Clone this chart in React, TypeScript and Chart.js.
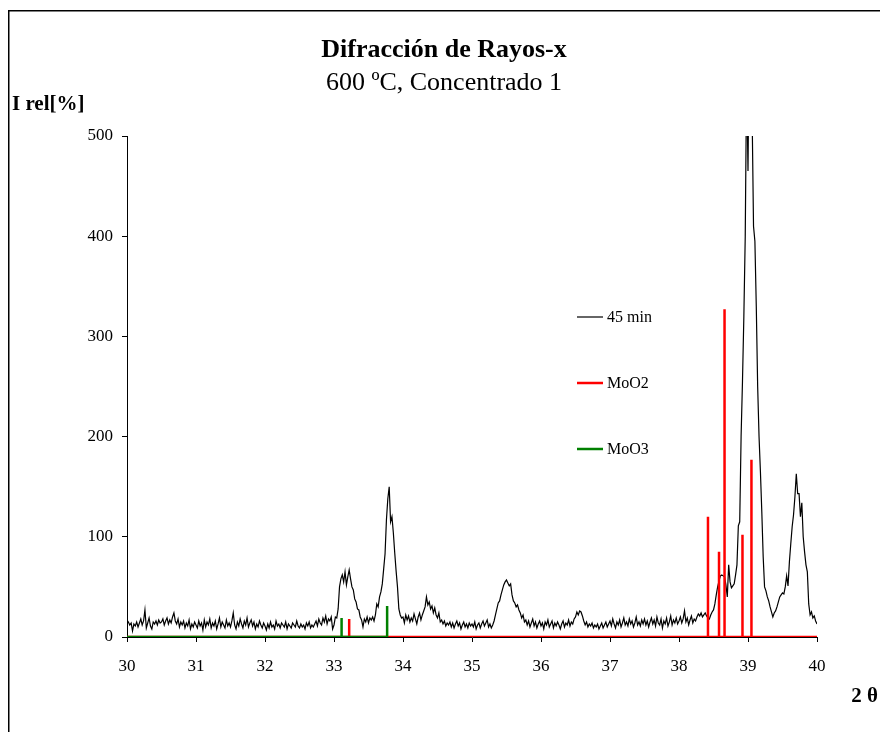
import React, { useEffect, useRef } from 'react';
import { Chart, registerables } from 'chart.js';

Chart.register(...registerables);

// ---- Data -------------------------------------------------------------
// X-ray diffraction scan, 45 min sample; 2θ from 30 to 40, step 0.02
const scanStart = 30;
const scanStep = 0.02;

const scan30to31 = [17, 15, 12, 14, 6, 13, 11, 15, 10, 14, 18, 12, 16, 27, 9, 14, 19, 11, 8, 15, 13, 16, 12, 17, 14,
  15, 18, 12, 16, 19, 13, 17, 14, 20, 24, 16, 13, 18, 10, 15, 12, 16, 9, 14, 11, 17, 8, 13, 10, 15];
const scan31to32 = [12, 9, 16, 11, 14, 7, 17, 10, 15, 12, 18, 9, 14, 11, 16, 8, 13, 19, 10, 15, 12, 9, 17, 11, 14,
  10, 16, 24, 12, 8, 15, 11, 18, 13, 9, 16, 12, 19, 10, 14, 17, 11, 15, 8, 13, 10, 16, 12, 9, 14];
const scan32to33 = [11, 7, 13, 9, 15, 10, 12, 8, 16, 11, 13, 9, 14, 12, 10, 15, 8, 13, 11, 9, 14, 12, 10, 16, 11,
  9, 13, 10, 12, 8, 14, 11, 15, 9, 12, 10, 13, 16, 11, 18, 14, 12, 19, 15, 21, 13, 18, 16, 20, 8];
const scan33to34 = [12, 20, 19, 28, 50, 58, 62, 55, 65, 52, 60, 67, 58, 50, 47, 38, 35, 28, 27, 20, 17, 10, 18, 15, 20,
  14, 19, 17, 20, 16, 22, 33, 30, 40, 45, 53, 68, 83, 117, 138, 150, 115, 120, 104, 84, 66, 50, 28, 22, 19];
const scan34to35 = [20, 14, 22, 17, 21, 15, 19, 16, 23, 18, 13, 20, 24, 17, 22, 26, 30, 40, 32, 35, 28, 31, 24, 29, 22,
  19, 24, 15, 17, 13, 16, 11, 14, 12, 15, 10, 14, 9, 13, 16, 11, 14, 8, 12, 15, 10, 13, 9, 14, 11];
const scan35to36 = [13, 10, 15, 8, 12, 14, 9, 13, 16, 11, 14, 17, 10, 13, 9, 12, 16, 22, 28, 34, 36, 42, 47, 52, 55,
  57, 54, 51, 53, 42, 36, 34, 30, 32, 27, 24, 19, 22, 15, 17, 12, 16, 10, 14, 18, 11, 15, 9, 13, 16];
const scan36to37 = [11, 14, 8, 15, 12, 17, 10, 13, 16, 9, 14, 11, 15, 12, 8, 13, 16, 10, 14, 12, 17, 11, 15, 13, 18,
  20, 25, 22, 26, 25, 21, 16, 12, 15, 10, 13, 11, 14, 9, 12, 10, 13, 8, 11, 14, 9, 12, 15, 10, 13];
const scan37to38 = [16, 11, 18, 13, 9, 15, 12, 17, 10, 14, 19, 12, 15, 11, 18, 13, 16, 10, 14, 20, 12, 15, 11, 17, 13,
  18, 12, 16, 10, 15, 19, 13, 17, 11, 20, 14, 12, 18, 9, 16, 13, 19, 11, 15, 21, 12, 17, 14, 19, 13];
const scan38to39 = [16, 20, 14, 18, 26, 15, 19, 12, 17, 21, 14, 18, 16, 20, 23, 21, 24, 20, 22, 24, 21, 19, 18, 22, 25,
  27, 33, 42, 50, 56, 61, 62, 61, 60, 52, 40, 72, 55, 49, 51, 53, 62, 72, 111, 115, 200, 255, 320, 400, 560];
const scan39to40 = [465, 620, 600, 520, 410, 395, 330, 250, 200, 165, 125, 80, 50, 46, 40, 36, 30, 25, 20, 24, 26, 30, 35, 40, 42,
  44, 43, 50, 61, 51, 75, 93, 110, 122, 140, 163, 143, 143, 120, 134, 100, 85, 72, 65, 33, 22, 25, 19, 21, 16];
const scanAt40 = [13];

// Reference patterns (stick lines)
const moO2Angles = [33.22, 38.42, 38.58, 38.66, 38.92, 39.05];
const moO2Intensities = [18, 120, 85, 327, 102, 177];
const moO3Angles = [33.11, 33.77];
const moO3Intensities = [19, 31];

const seriesNames = ['45 min', 'MoO2', 'MoO3'];
const seriesColors = ['#000000', '#FF0000', '#008000'];

const xMin = 30;
const xMax = 40;
const xStep = 1;
const yMin = 0;
const yMax = 500;
const yStep = 100;

const titleText = 'Difracción de Rayos-x';
const subtitleText = '600 ºC, Concentrado 1';
const yAxisTitle = 'I rel[%]';
const xAxisTitle = '2 θ';

// ---- Helpers ----------------------------------------------------------
const SERIF = '"Liberation Serif", "Times New Roman", serif';

function buildScan() {
  const values = [
    ...scan30to31, ...scan31to32, ...scan32to33, ...scan33to34, ...scan34to35,
    ...scan35to36, ...scan36to37, ...scan37to38, ...scan38to39, ...scan39to40, ...scanAt40,
  ];
  return values.map((y, i) => ({ x: Math.round((scanStart + i * scanStep) * 100) / 100, y }));
}

function buildSticks(angles: number[], heights: number[], from: number, to?: number) {
  const pts: { x: number; y: number }[] = [{ x: from, y: 0 }];
  angles.forEach((a, i) => {
    pts.push({ x: a, y: 0 }, { x: a, y: heights[i] }, { x: a, y: 0 });
  });
  if (to !== undefined) pts.push({ x: to, y: 0 });
  return pts;
}

const decorPlugin = {
  id: 'decor',
  afterDraw(chart: any) {
    const ctx = chart.ctx as CanvasRenderingContext2D;
    ctx.save();
    // outer frame (top and left visible)
    ctx.strokeStyle = '#000';
    ctx.lineWidth = 1.5;
    ctx.beginPath();
    ctx.moveTo(8.75, 732);
    ctx.lineTo(8.75, 10.75);
    ctx.lineTo(880, 10.75);
    ctx.stroke();

    ctx.fillStyle = '#000';
    ctx.textAlign = 'center';
    ctx.textBaseline = 'alphabetic';
    ctx.font = `bold 26px ${SERIF}`;
    ctx.fillText(titleText, 444, 57);
    ctx.font = `26px ${SERIF}`;
    ctx.fillText(subtitleText, 444, 90);

    ctx.textAlign = 'left';
    ctx.font = `bold 21px ${SERIF}`;
    ctx.fillText(yAxisTitle, 12, 110);
    ctx.textAlign = 'right';
    ctx.fillText(xAxisTitle, 878, 702);

    // legend
    const legendY = [317, 383, 449];
    const legendWidths = [1.2, 2.5, 2.5];
    ctx.textAlign = 'left';
    ctx.textBaseline = 'middle';
    ctx.font = `16px ${SERIF}`;
    seriesNames.forEach((name, i) => {
      ctx.strokeStyle = seriesColors[i];
      ctx.lineWidth = legendWidths[i];
      ctx.beginPath();
      ctx.moveTo(577, legendY[i]);
      ctx.lineTo(603, legendY[i]);
      ctx.stroke();
      ctx.fillStyle = '#000';
      ctx.fillText(name, 607, legendY[i] + 1);
    });
    ctx.restore();
  },
};

export default function App() {
  const canvasRef = useRef<HTMLCanvasElement | null>(null);

  useEffect(() => {
    if (!canvasRef.current) return;
    Chart.defaults.font.family = SERIF;
    const axisGrid = {
      drawOnChartArea: false,
      drawTicks: true,
      tickLength: 5,
      color: '#000',
      lineWidth: 1,
    };
    const chart = new Chart(canvasRef.current, {
      type: 'scatter',
      data: {
        datasets: [
          {
            label: seriesNames[0],
            data: buildScan(),
            showLine: true,
            borderColor: seriesColors[0],
            backgroundColor: seriesColors[0],
            borderWidth: 1.2,
            pointRadius: 0,
            tension: 0,
            order: 3,
          },
          {
            label: seriesNames[1],
            data: buildSticks(moO2Angles, moO2Intensities, xMin, xMax),
            showLine: true,
            borderColor: seriesColors[1],
            backgroundColor: seriesColors[1],
            borderWidth: 2.5,
            pointRadius: 0,
            tension: 0,
            order: 2,
          },
          {
            label: seriesNames[2],
            data: buildSticks(moO3Angles, moO3Intensities, xMin),
            showLine: true,
            borderColor: seriesColors[2],
            backgroundColor: seriesColors[2],
            borderWidth: 2.5,
            pointRadius: 0,
            tension: 0,
            order: 1,
          },
        ],
      },
      options: {
        responsive: false,
        animation: false,
        events: [],
        layout: { padding: { top: 136, right: 63, bottom: 0, left: 0 } },
        plugins: {
          legend: { display: false },
          tooltip: { enabled: false },
          title: { display: false },
        },
        scales: {
          x: {
            type: 'linear',
            min: xMin,
            max: xMax,
            afterFit: (s: any) => {
              s.height = 95;
            },
            ticks: {
              stepSize: xStep,
              color: '#000',
              font: { family: SERIF, size: 17 },
              padding: 14,
              maxRotation: 0,
              autoSkip: false,
            },
            grid: axisGrid,
            border: { display: true, color: '#000', width: 1 },
          },
          y: {
            type: 'linear',
            min: yMin,
            max: yMax,
            afterFit: (s: any) => {
              s.width = 127;
            },
            ticks: {
              stepSize: yStep,
              color: '#000',
              font: { family: SERIF, size: 17 },
              padding: 9,
            },
            grid: axisGrid,
            border: { display: true, color: '#000', width: 1 },
          },
        },
      },
      plugins: [decorPlugin],
    } as any);
    return () => chart.destroy();
  }, []);

  return (
    <canvas
      ref={canvasRef}
      width={880}
      height={732}
      style={{ position: 'fixed', left: 0, top: 0, display: 'block', background: '#fff' }}
    />
  );
}
